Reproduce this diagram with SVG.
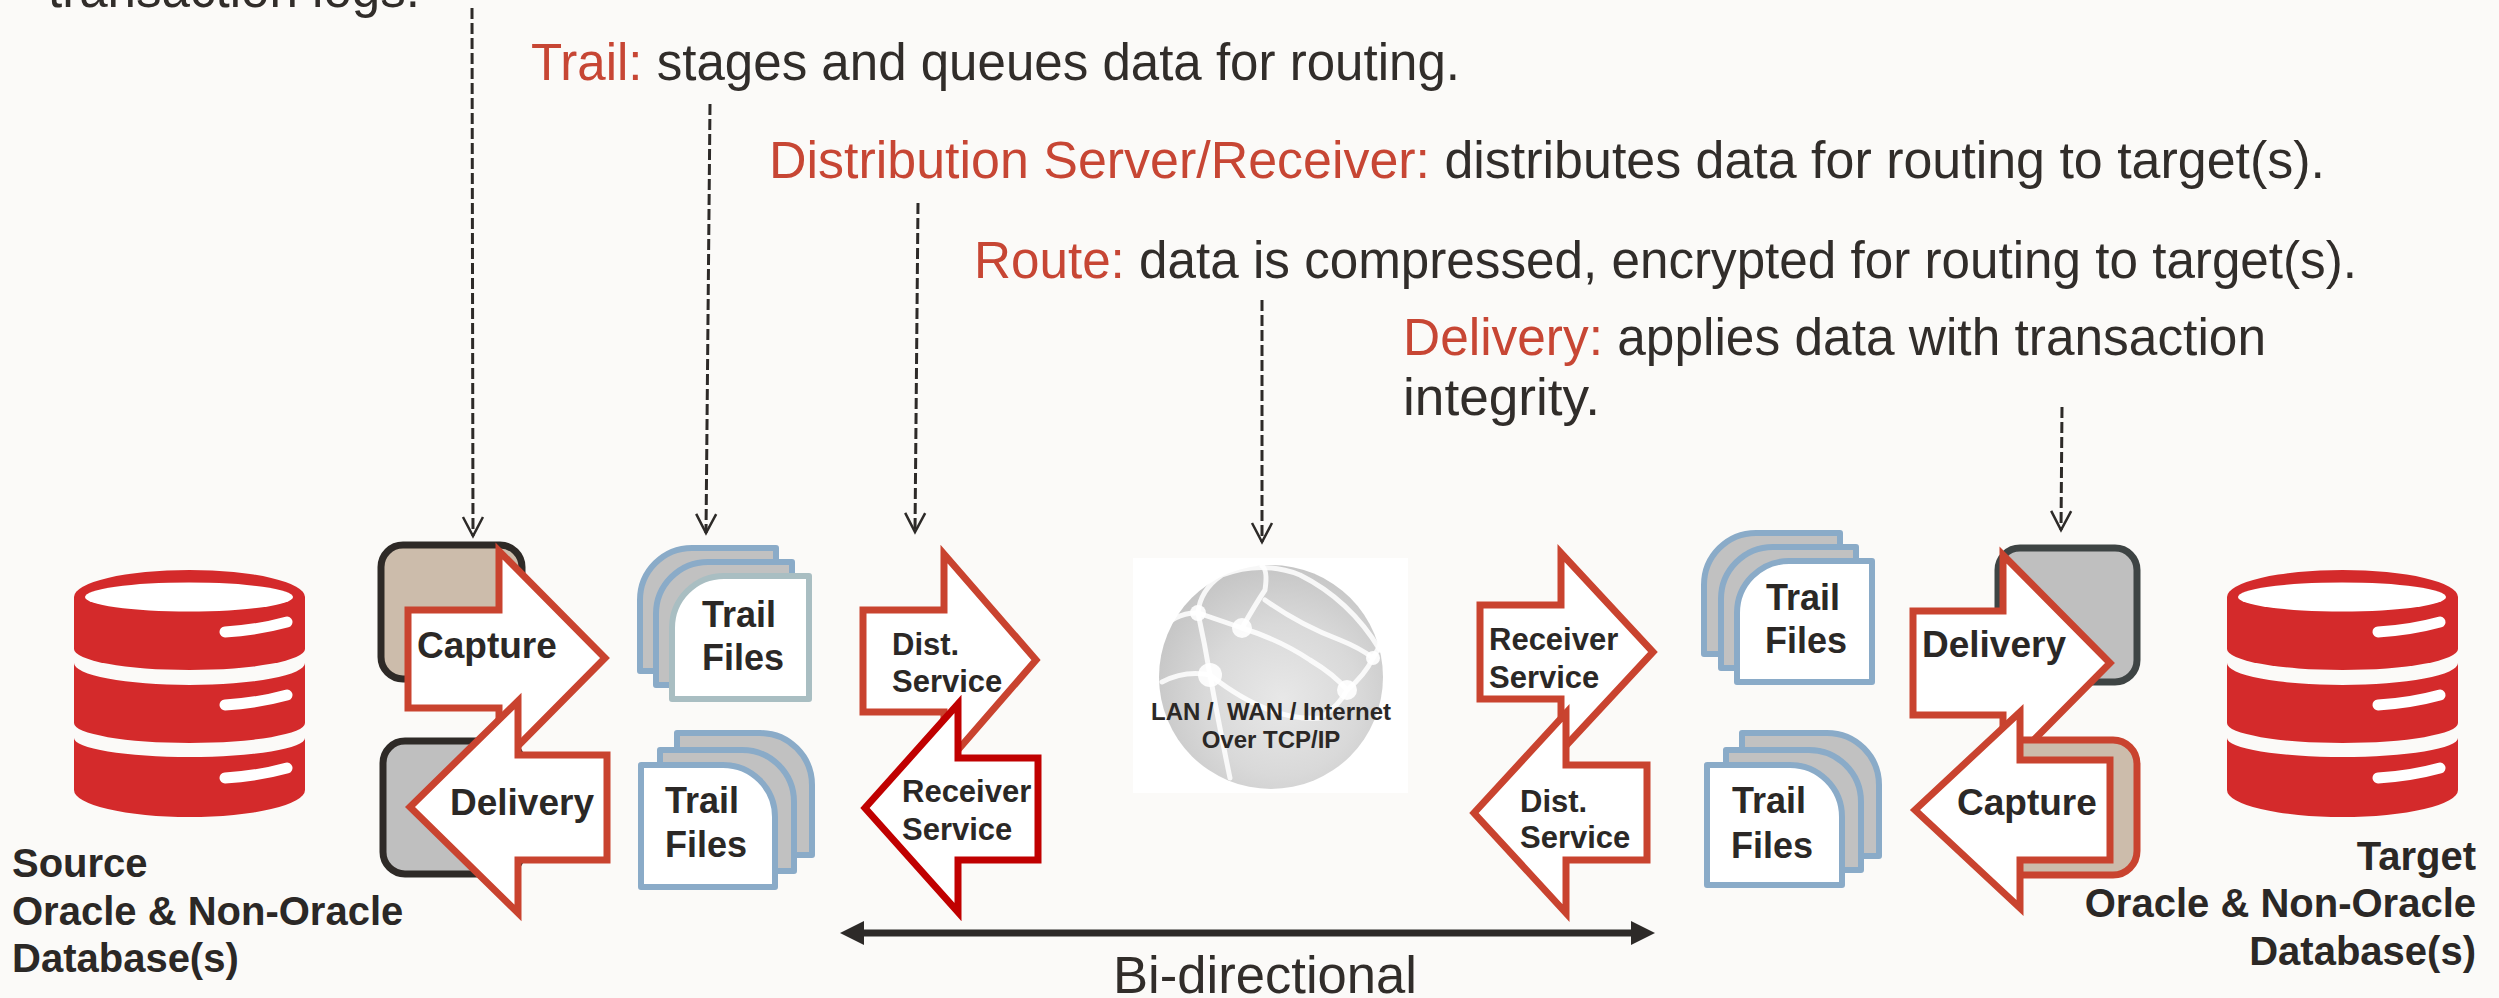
<svg xmlns="http://www.w3.org/2000/svg" width="2499" height="998" viewBox="0 0 2499 998">
  <style>
    .desc { font-family: "Liberation Sans", Arial, sans-serif; font-size: 51px; fill: #312d2a; }
    .hl { fill: #c74634; }
    .lbl { font-family: "Liberation Sans", Arial, sans-serif; font-weight: bold; fill: #2b2826; }
    .db-title { font-size: 40px; }
    .box-lbl { font-size: 37px; }
    .trail-lbl { font-size: 36px; }
    .svc-lbl { font-size: 31px; }
    .net-lbl { font-size: 24px; }
    .dash { fill: none; stroke: #2d2a28; stroke-width: 3; stroke-dasharray: 11 4; marker-end: url(#chev); }
    .blk-arrow { fill: #ffffff; stroke: #c9432f; stroke-width: 7; stroke-linejoin: miter; }
    .blk-arrow.dark { stroke: #c00000; }
    .proc-box { stroke-width: 7; }
    .page { stroke: #8aabc8; stroke-width: 6; stroke-linejoin: round; }
    .page.back { fill: #c1c1c1; }
    .page.front { fill: #ffffff; }
    .page.pale { stroke: #a9bec2; }
    .pill { fill: none; stroke: #ffffff; stroke-width: 11; stroke-linecap: round; }
    .net { fill: none; stroke: #ffffff; stroke-width: 5; stroke-opacity: 0.85; stroke-linecap: round; }
    .node-dot { fill: #ffffff; fill-opacity: 0.9; }
  </style>
  <defs>
    <marker id="chev" markerUnits="userSpaceOnUse" markerWidth="1" markerHeight="1" refX="0" refY="0" orient="auto" overflow="visible">
      <path d="M-19,-10 L0,0 L-19,10" fill="none" stroke="#2d2a28" stroke-width="2.5" stroke-dasharray="none"/>
    </marker>
    <marker id="tri" markerUnits="userSpaceOnUse" markerWidth="1" markerHeight="1" refX="0" refY="0" orient="auto-start-reverse" overflow="visible">
      <path d="M24,0 L0,-12 L0,12 Z" fill="#2d2a28"/>
    </marker>
    <radialGradient id="globeGrad" cx="0.55" cy="0.6" r="0.62">
      <stop offset="0" stop-color="#e8e8e8"/>
      <stop offset="0.55" stop-color="#d9d9d9"/>
      <stop offset="1" stop-color="#c4c4c4"/>
    </radialGradient>
    <!-- database cylinder: three stacked red sections with label pills -->
    <g id="db-icon">
      <path fill="#d42a2b" d="M74,597 A115.5,27 0 0 1 305,597 V649 A115.5,21 0 0 1 74,649 Z"/>
      <path fill="#d42a2b" d="M74,663 A115.5,22 0 0 0 305,663 V723 A115.5,20 0 0 1 74,723 Z"/>
      <path fill="#d42a2b" d="M74,738 A115.5,19 0 0 0 305,738 V790 A115.5,27 0 0 1 74,790 Z"/>
      <ellipse cx="189" cy="597" rx="104" ry="14.5" fill="#ffffff"/>
      <path class="pill" d="M225,632 Q258,630 287,622"/>
      <path class="pill" d="M225,705 Q258,703 287,695"/>
      <path class="pill" d="M225,778 Q258,776 287,768"/>
    </g>
  </defs>

  <rect x="0" y="0" width="2499" height="998" fill="#fbfaf8"/>

  <!-- descriptive captions -->
  <g id="captions">
    <text class="desc" x="48" y="7" textLength="372" lengthAdjust="spacingAndGlyphs">transaction logs.</text>
    <text class="desc" x="531" y="80" textLength="929" lengthAdjust="spacingAndGlyphs"><tspan class="hl">Trail:</tspan> stages and queues data for routing.</text>
    <text class="desc" x="769" y="178" textLength="1556" lengthAdjust="spacingAndGlyphs"><tspan class="hl">Distribution Server/Receiver:</tspan> distributes data for routing to target(s).</text>
    <text class="desc" x="974" y="278" textLength="1383" lengthAdjust="spacingAndGlyphs"><tspan class="hl">Route:</tspan> data is compressed, encrypted for routing to target(s).</text>
    <text class="desc" x="1403" y="355" textLength="863" lengthAdjust="spacingAndGlyphs"><tspan class="hl">Delivery:</tspan> applies data with transaction</text>
    <text class="desc" x="1403" y="415" textLength="197" lengthAdjust="spacingAndGlyphs">integrity.</text>
  </g>

  <!-- source database -->
  <g id="source-db">
    <use href="#db-icon"/>
    <text class="lbl db-title" x="12" y="877">Source</text>
    <text class="lbl db-title" x="12" y="925">Oracle &amp; Non-Oracle</text>
    <text class="lbl db-title" x="12" y="972">Database(s)</text>
  </g>

  <!-- source capture / delivery processes -->
  <g id="source-capture">
    <rect class="proc-box" x="381" y="545" width="141" height="134" rx="22" fill="#ccbcab" stroke="#2e2a27"/>
    <path class="blk-arrow" d="M408,610 H499 V551 L605,658 L499,765 V708 H408 Z"/>
    <text class="lbl box-lbl" x="417" y="658">Capture</text>
  </g>
  <g id="source-delivery">
    <rect class="proc-box" x="383" y="741" width="139" height="133" rx="22" fill="#bfbfbf" stroke="#2e2a27"/>
    <path class="blk-arrow" d="M607,755 H518 V701 L410,807 L518,913 V860 H607 Z"/>
    <text class="lbl box-lbl" x="450" y="815">Delivery</text>
  </g>

  <!-- source trail files -->
  <g id="source-trail-out">
    <path class="page back" d="M640,600 A52,52 0 0 1 692,548 H776 V671 H640 Z"/>
    <path class="page back" d="M656,614 A52,52 0 0 1 708,562 H792 V685 H656 Z"/>
    <path class="page front pale" d="M672,628 A52,52 0 0 1 724,576 H809 V699 H672 Z"/>
    <text class="lbl trail-lbl" x="702" y="627">Trail</text>
    <text class="lbl trail-lbl" x="702" y="670">Files</text>
  </g>
  <g id="source-trail-in">
    <path class="page back" d="M677,733 H760 A52,52 0 0 1 812,785 V855 H677 Z"/>
    <path class="page back" d="M660,750 H742 A52,52 0 0 1 794,802 V871 H660 Z"/>
    <path class="page front" d="M641,765 H723 A52,52 0 0 1 775,817 V887 H641 Z"/>
    <text class="lbl trail-lbl" x="665" y="813">Trail</text>
    <text class="lbl trail-lbl" x="665" y="857">Files</text>
  </g>

  <!-- source-side distribution / receiver services -->
  <g id="source-dist-service">
    <path class="blk-arrow" d="M863,610 H944 V554 L1036,660 L944,766 V712 H863 Z"/>
    <text class="lbl svc-lbl" x="892" y="655">Dist.</text>
    <text class="lbl svc-lbl" x="892" y="692">Service</text>
  </g>
  <g id="source-receiver-service">
    <path class="blk-arrow dark" d="M1038,758 H958 V704 L865,808 L958,912 V860 H1038 Z"/>
    <text class="lbl svc-lbl" x="902" y="802">Receiver</text>
    <text class="lbl svc-lbl" x="902" y="840">Service</text>
  </g>

  <!-- network globe -->
  <g id="network">
    <rect x="1133" y="558" width="275" height="235" fill="#ffffff"/>
    <circle cx="1271" cy="677" r="112" fill="url(#globeGrad)"/>
    <path class="net" d="M1157,633 Q1175,612 1198,613 L1242,628"/>
    <path class="net" d="M1198,613 Q1200,590 1222,575 Q1262,560 1300,575 Q1350,600 1380,650"/>
    <path class="net" d="M1198,613 Q1205,645 1210,675 Q1220,730 1230,778"/>
    <path class="net" d="M1242,628 Q1280,640 1310,660 Q1335,675 1347,690"/>
    <path class="net" d="M1242,628 Q1255,605 1265,590 Q1268,570 1262,566"/>
    <path class="net" d="M1265,600 Q1300,625 1340,640 Q1360,648 1373,658"/>
    <path class="net" d="M1210,675 Q1270,722 1320,718 Q1340,705 1347,690"/>
    <path class="net" d="M1347,690 Q1365,675 1373,658 Q1385,640 1381,622"/>
    <path class="net" d="M1210,675 Q1185,670 1162,682"/>
    <circle class="node-dot" cx="1198" cy="613" r="8"/>
    <circle class="node-dot" cx="1242" cy="628" r="10"/>
    <circle class="node-dot" cx="1210" cy="675" r="12"/>
    <circle class="node-dot" cx="1347" cy="690" r="10"/>
    <circle class="node-dot" cx="1373" cy="658" r="7"/>
    <text class="lbl net-lbl" x="1271" y="720" text-anchor="middle" xml:space="preserve">LAN /  WAN / Internet</text>
    <text class="lbl net-lbl" x="1271" y="748" text-anchor="middle">Over TCP/IP</text>
  </g>

  <!-- target-side receiver / distribution services -->
  <g id="target-receiver-service">
    <path class="blk-arrow" d="M1480,605 H1561 V553 L1653,652 L1561,751 V699 H1480 Z"/>
    <text class="lbl svc-lbl" x="1489" y="650">Receiver</text>
    <text class="lbl svc-lbl" x="1489" y="688">Service</text>
  </g>
  <g id="target-dist-service">
    <path class="blk-arrow" d="M1647,765 H1566 V713 L1474,813 L1566,913 V860 H1647 Z"/>
    <text class="lbl svc-lbl" x="1520" y="812">Dist.</text>
    <text class="lbl svc-lbl" x="1520" y="848">Service</text>
  </g>

  <!-- target trail files -->
  <g id="target-trail-in">
    <path class="page back" d="M1704,585 A52,52 0 0 1 1756,533 H1840 V654 H1704 Z"/>
    <path class="page back" d="M1721,599 A52,52 0 0 1 1773,547 H1856 V668 H1721 Z"/>
    <path class="page front" d="M1737,613 A52,52 0 0 1 1789,561 H1872 V682 H1737 Z"/>
    <text class="lbl trail-lbl" x="1766" y="610">Trail</text>
    <text class="lbl trail-lbl" x="1765" y="653">Files</text>
  </g>
  <g id="target-trail-out">
    <path class="page back" d="M1742,733 H1827 A52,52 0 0 1 1879,785 V856 H1742 Z"/>
    <path class="page back" d="M1726,750 H1809 A52,52 0 0 1 1861,802 V870 H1726 Z"/>
    <path class="page front" d="M1707,765 H1790 A52,52 0 0 1 1842,817 V885 H1707 Z"/>
    <text class="lbl trail-lbl" x="1732" y="813">Trail</text>
    <text class="lbl trail-lbl" x="1731" y="858">Files</text>
  </g>

  <!-- target delivery / capture processes -->
  <g id="target-delivery">
    <rect class="proc-box" x="1998" y="548" width="139" height="134" rx="22" fill="#bfbfbf" stroke="#3e4444"/>
    <path class="blk-arrow" d="M1913,611 H2003 V555 L2110,663 L2003,771 V715 H1913 Z"/>
    <text class="lbl box-lbl" x="1922" y="657">Delivery</text>
  </g>
  <g id="target-capture">
    <rect class="proc-box" x="1985" y="740" width="152" height="135" rx="24" fill="#ccbcab" stroke="#c9432f"/>
    <path class="blk-arrow" d="M2110,760 H2020 V712 L1915,810 L2020,908 V860 H2110 Z"/>
    <text class="lbl box-lbl" x="1957" y="815">Capture</text>
  </g>

  <!-- target database -->
  <g id="target-db">
    <use href="#db-icon" transform="translate(2153,0)"/>
    <text class="lbl db-title" x="2476" y="870" text-anchor="end">Target</text>
    <text class="lbl db-title" x="2476" y="917" text-anchor="end">Oracle &amp; Non-Oracle</text>
    <text class="lbl db-title" x="2476" y="965" text-anchor="end">Database(s)</text>
  </g>

  <!-- pointer lines from captions and the bi-directional span -->
  <g id="connectors">
    <path class="dash" d="M472,8 L473,536"/>
    <path class="dash" d="M710,104 L706,533"/>
    <path class="dash" d="M918,203 L915,532"/>
    <path class="dash" d="M1262,300 L1262,542"/>
    <path class="dash" d="M2062,407 L2061,530"/>
    <path d="M864,933 H1631" fill="none" stroke="#2d2a28" stroke-width="7" marker-start="url(#tri)" marker-end="url(#tri)"/>
    <text class="desc" x="1265" y="993" text-anchor="middle" textLength="304" lengthAdjust="spacingAndGlyphs">Bi-directional</text>
  </g>
</svg>
